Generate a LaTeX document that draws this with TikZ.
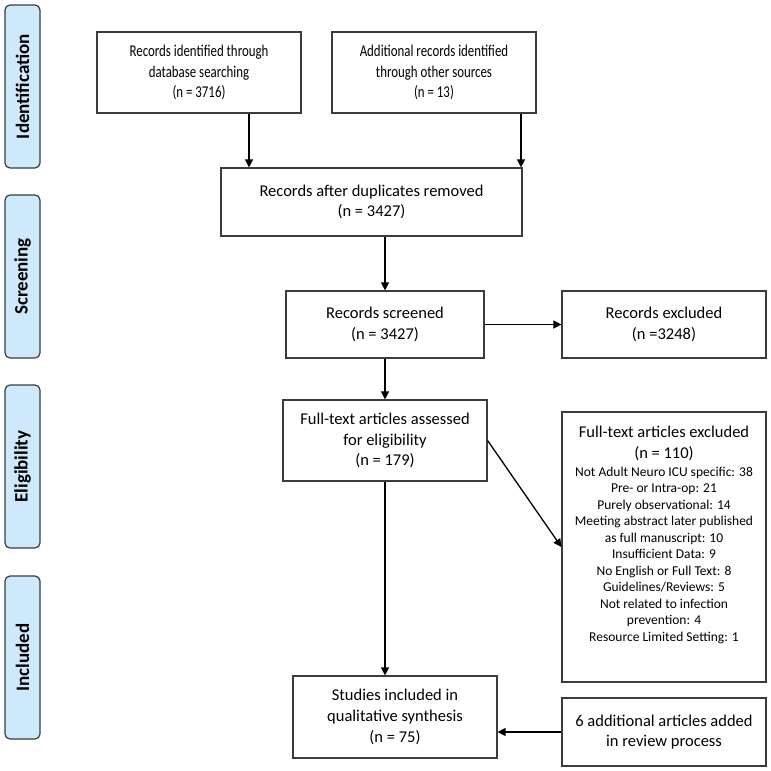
\documentclass[tikz,border=0pt]{standalone}
\usepackage{fontspec}
\setmainfont{Carlito}
\newfontfamily\narrowfont[FakeStretch=0.78]{Carlito}
\usetikzlibrary{arrows.meta}

\definecolor{phaseblue}{RGB}{207,233,252}
\definecolor{boxgray}{RGB}{60,60,60}

\begin{document}
\begin{tikzpicture}[x=1pt, y=-1pt,
    box/.style={draw=boxgray, line width=1.2pt, align=center, inner sep=0pt,
        font=\fontsize{16.5}{20.7}\selectfont},
    phase/.style={draw=boxgray, line width=1.2pt, fill=phaseblue, rounded corners=5pt,
        rotate=90, minimum width=163pt, minimum height=35pt, inner sep=0pt,
        font=\fontsize{19}{22}\selectfont\bfseries},
    arr/.style={-{Triangle[length=8pt,width=8pt]}, line width=1.3pt}]
    \useasboundingbox (0, 0) rectangle (771, 771);

    % Phase labels on the left
    \foreach \id/\y/\label in {pid/86.5/Identification, pscr/276.5/Screening,
                               pelig/466.5/Eligibility, pincl/657.5/Included} {
        \node[phase] (\id) at (22.5, \y) {\label};
    }

    % Identification
    \node[box, minimum width=204pt, minimum height=81pt,
          font=\narrowfont\fontsize{16.5}{20.7}\selectfont] (dbrec) at (199, 72.5)
        {Records identified through\\database searching\\(n = 3716)};
    \node[box, minimum width=204pt, minimum height=81pt,
          font=\narrowfont\fontsize{16.5}{20.7}\selectfont] (otherrec) at (434, 72.5)
        {Additional records identified\\through other sources\\(n = 13)};

    % Screening
    \node[box, minimum width=301pt, minimum height=68pt] (dedup) at (371.5, 202)
        {Records after duplicates removed\\(n = 3427)};
    \node[box, minimum width=198pt, minimum height=67pt] (screened) at (385, 324.5)
        {Records screened\\(n = 3427)};
    \node[box, minimum width=204pt, minimum height=67pt] (screxcl) at (664, 324.5)
        {Records excluded\\(n =3248)};

    % Eligibility
    \node[box, minimum width=204pt, minimum height=81pt] (fulltext) at (385, 440.5)
        {Full-text articles assessed\\for eligibility\\(n = 179)};
    \node[box, minimum width=204pt, minimum height=270pt] (ftexcl) at (664, 547)
        {\parbox[t][270pt][t]{204pt}{\centering\vspace*{14pt}%
        Full-text articles excluded\\(n = 110)\par\vspace{1.5pt}%
        \fontsize{13.5}{16.5}\selectfont
        Not Adult Neuro ICU specific: 38\\
        Pre- or Intra-op: 21\\
        Purely observational: 14\\
        Meeting abstract later published\\
        as full manuscript: 10\\
        Insufficient Data: 9\\
        No English or Full Text: 8\\
        Guidelines/Reviews: 5\\
        Not related to infection\\
        prevention: 4\\
        Resource Limited Setting: 1\par}};

    % Included
    \node[box, minimum width=204pt, minimum height=82pt] (studies) at (395, 717)
        {Studies included in\\qualitative synthesis\\(n = 75)};
    \node[box, minimum width=204pt, minimum height=68pt] (added) at (664, 732)
        {6 additional articles added\\in review process};

    % Arrows
    \draw[arr] ([xshift=50pt]dbrec.south) -- ([xshift=50pt]dbrec.south |- dedup.north);
    \draw[arr] ([xshift=87pt]otherrec.south) -- ([xshift=87pt]otherrec.south |- dedup.north);
    \draw[arr] (screened.north |- dedup.south) -- (screened.north);
    \draw[arr] (screened.east) -- (screxcl.west);
    \draw[arr] (screened.south) -- (fulltext.north);
    \draw[arr] (fulltext.east) -- (ftexcl.west);
    \draw[arr] (fulltext.south) -- (fulltext.south |- studies.north);
    \draw[arr] (added.west) -- (studies.east |- added.west);
\end{tikzpicture}
\end{document}
